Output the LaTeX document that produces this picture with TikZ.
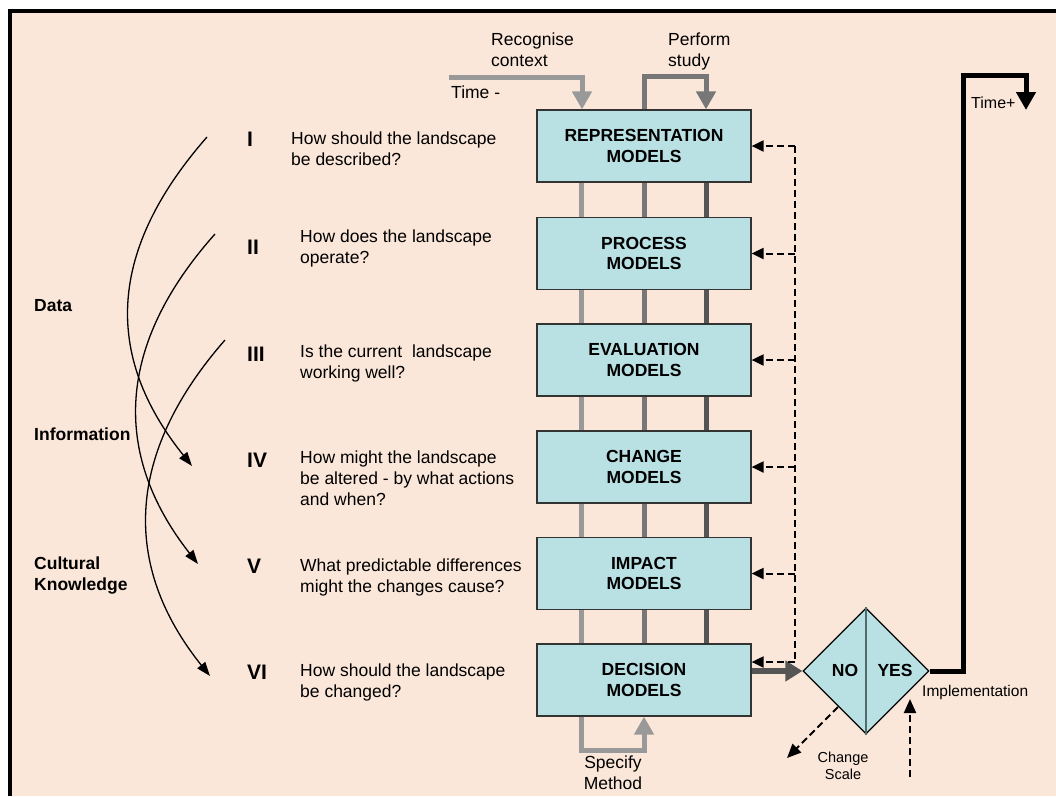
\documentclass[tikz,border=0pt]{standalone}
\usepackage{fontspec}
\setmainfont{Liberation Sans}
\usetikzlibrary{shapes.geometric,arrows.meta}
\definecolor{peach}{HTML}{FBE7D9}
\definecolor{boxfill}{HTML}{B9E0E3}
\definecolor{lgc}{HTML}{999999}
\definecolor{mgc}{HTML}{777777}
\definecolor{dgc}{HTML}{555555}
\definecolor{divc}{HTML}{4F6B6B}
\begin{document}
\begin{tikzpicture}[x=1pt,y=-1pt,
  model/.style={draw=black!80, line width=1.2pt, fill=boxfill, minimum width=214pt,
    minimum height=72pt, inner sep=0pt, align=center,
    font=\fontsize{17.5}{20.5}\selectfont\bfseries},
  qtext/.style={anchor=north west, inner sep=0pt, align=left, font=\fontsize{17.5}{21}\selectfont},
  numlbl/.style={anchor=west, inner sep=0pt, font=\fontsize{21}{24}\selectfont\bfseries},
  sidelbl/.style={anchor=north west, inner sep=0pt, align=left, font=\fontsize{17.5}{21}\selectfont\bfseries},
  plain/.style={inner sep=0pt, align=left, font=\fontsize{17.5}{21}\selectfont},
  lgline/.style={lgc, line width=5pt},
  mgline/.style={mgc, line width=5pt},
  dgline/.style={dgc, line width=5pt},
  fbline/.style={black, line width=2pt, dash pattern=on 7pt off 4pt},
  fbtip/.style={-{Triangle[length=12pt,width=11pt]}},
  curvearrow/.style={black, line width=1.3pt, -{Triangle[length=14pt,width=10pt]}},
  bigtip/.style={-{Triangle[length=18pt,width=19pt]}}
]
\useasboundingbox (0,0) rectangle (1056,796);
\fill[white] (0,0) rectangle (1056,796);
\fill[peach] (10,11) rectangle (1056,796);
\draw[line width=4pt] (10,796) -- (10,11) -- (1056,11);

% model boxes
\node[model] (b1) at (644,146) {REPRESENTATION\\MODELS};
\node[model] (b2) at (644,253.5) {PROCESS\\MODELS};
\node[model] (b3) at (644,360) {EVALUATION\\MODELS};
\node[model] (b4) at (644,467) {CHANGE\\MODELS};
\node[model] (b5) at (644,573.5) {IMPACT\\MODELS};
\node[model] (b6) at (644,680) {DECISION\\MODELS};

% connectors between boxes
\foreach \a/\b in {b1/b2,b2/b3,b3/b4,b4/b5,b5/b6}{
  \draw[lgline] ([xshift=-63pt]\a.south) -- ([xshift=-63pt]\b.north);
  \draw[mgline] (\a.south) -- (\b.north);
  \draw[dgline] ([xshift=62pt]\a.south) -- ([xshift=62pt]\b.north);
}

% top inputs
\coordinate (rc) at (449,77);
\draw[lgline, bigtip] (rc) -| ([xshift=-62pt]b1.north);
\draw[mgline, bigtip] (b1.north) -- ++(0,-33) -| ([xshift=62pt]b1.north);
\node[plain, anchor=north west] (rctext) at (491,33) {Recognise\\context};
\node[plain, anchor=north west] (pstext) at (668,33) {Perform\\study};
\node[plain, anchor=west] (tminus) at (451,92) {Time -};

% specify method
\draw[lgline, bigtip] ([xshift=-63pt]b6.south) -- ++(0,34) -| (b6.south);
\node[plain, align=center, anchor=north] (spec) at (613,756) {Specify\\Method};

% decision diamond
\node[diamond, draw=black, line width=1.2pt, fill=boxfill, minimum width=126pt,
  minimum height=126pt, inner sep=0pt, shape aspect=1] (dia) at (866,671) {};
\draw[divc, line width=1.5pt] (dia.north) -- (dia.south);
\node[inner sep=0pt, font=\fontsize{17.5}{21}\selectfont\bfseries] (no) at (845,670) {NO};
\node[inner sep=0pt, font=\fontsize{17.5}{21}\selectfont\bfseries] (yes) at (895,670) {YES};
\draw[dgc, line width=6pt, -{Triangle[length=17pt,width=20pt]}] (b6.east |- dia.west) -- (dia.west);

% feedback dashed lines
\coordinate (fb) at (795,0);
\draw[fbline] (b1.east -| fb) -- ([yshift=18pt]b6.east -| fb);
\foreach \b in {b1,b2,b3,b4,b5}{
  \draw[fbline, fbtip] (\b.east -| fb) -- (\b.east);
}
\draw[fbline, fbtip] ([yshift=18pt]b6.east -| fb) -- ([yshift=18pt]b6.east);

% implementation path
\coordinate (tp1) at (963,75);
\coordinate (tp2) at (1026,110);
\draw[black, line width=5pt, bigtip] (dia.east) -| (tp1) -| (tp2);
\node[inner sep=0pt, anchor=west, font=\fontsize{16}{19}\selectfont] (tplus) at (971,103) {Time+};
\node[inner sep=0pt, anchor=north west, font=\fontsize{15.5}{18}\selectfont] (impl) at (922,685) {Implementation};

% change scale / incoming
\coordinate (cs1) at (838,707);
\coordinate (cs2) at (787,758);
\draw[fbline, -{Triangle[length=14pt,width=12pt]}] (cs1) -- (cs2);
\node[inner sep=0pt, anchor=north, align=center, font=\fontsize{14.5}{17}\selectfont] (cscale) at (843,752) {Change\\Scale};
\coordinate (in1) at (910,777);
\coordinate (in2) at (910,699);
\draw[fbline, -{Triangle[length=14pt,width=12pt]}] (in1) -- (in2);

% numerals
\node[numlbl] (n1) at (247,139) {I};
\node[numlbl] (n2) at (247,247) {II};
\node[numlbl] (n3) at (247,354) {III};
\node[numlbl] (n4) at (247,460) {IV};
\node[numlbl] (n5) at (247,566) {V};
\node[numlbl] (n6) at (247,672) {VI};

% questions
\node[qtext] (q1) at (291,131.5) {How should the landscape\\be described?};
\node[qtext] (q2) at (300,229.5) {How does the landscape\\operate?};
\node[qtext] (q3) at (300,344.5) {Is the current\ \ landscape\\working well?};
\node[qtext] (q4) at (300,450.7) {How might the landscape\\be altered - by what actions\\and when?};
\node[qtext] (q5) at (300,558.5) {What predictable differences\\might the changes cause?};
\node[qtext] (q6) at (300,663.5) {How should the landscape\\be changed?};

% side labels
\node[sidelbl] (data) at (34,299) {Data};
\node[sidelbl] (info) at (34,428) {Information};
\node[sidelbl] (cult) at (34,557) {Cultural\\Knowledge};

% curved arrows
\coordinate (c1s) at (207,137);
\coordinate (c1t) at (192,466);
\coordinate (c2s) at (215,234);
\coordinate (c2t) at (198,564);
\coordinate (c3s) at (225,340);
\coordinate (c3t) at (210,676);
\draw[curvearrow] (c1s) .. controls (108,250) and (103,355) .. (c1t);
\draw[curvearrow] (c2s) .. controls (117,344) and (111,453) .. (c2t);
\draw[curvearrow] (c3s) .. controls (126,453) and (121,565) .. (c3t);
\end{tikzpicture}
\end{document}
